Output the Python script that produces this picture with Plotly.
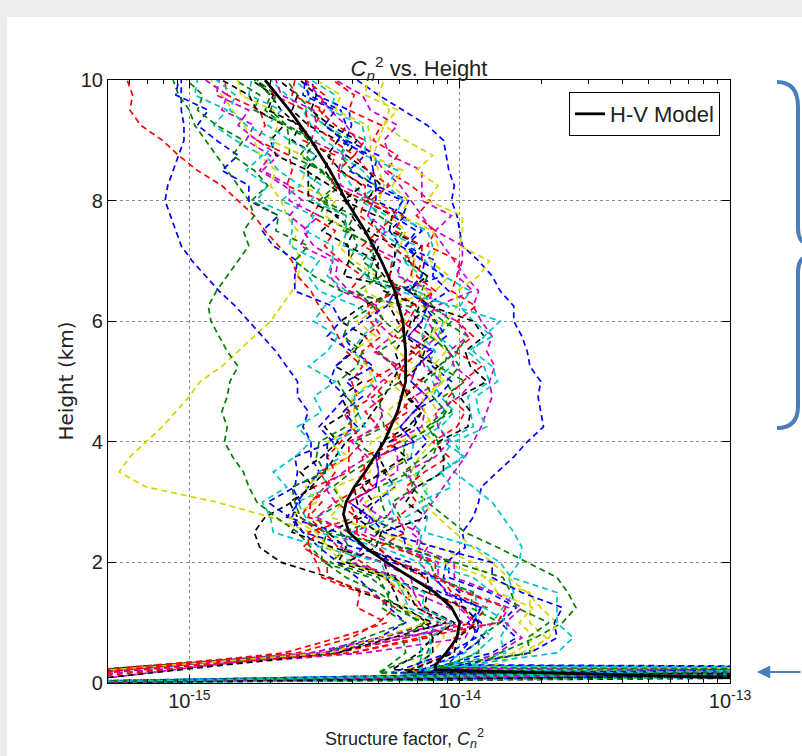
import plotly.graph_objects as go

# ---------------------------------------------------------------------------
# Data
# ---------------------------------------------------------------------------
# Sample heights (km) of every balloon profile above the surface layer
profile_heights_km = [0.5, 0.75, 1.0, 1.25, 1.5, 1.75, 2.0, 2.25, 2.5, 2.75,
                      3.0, 3.25, 3.5, 3.75, 4.0, 4.25, 4.5, 4.75, 5.0, 5.25,
                      5.5, 5.75, 6.0, 6.25, 6.5, 6.75, 7.0, 7.25, 7.5, 7.75,
                      8.0, 8.25, 8.5, 8.75, 9.0, 9.25, 9.5, 9.75, 10.0]

# log10(Cn^2) of each measured profile at profile_heights_km
profile_log_cn2 = [
    [-14.00, -13.95, -13.92, -13.99, -14.00, -14.06, -14.05, -13.98, -13.99, -13.95, -13.93, -13.92, -13.86, -13.80, -13.75, -13.69, -13.70, -13.71, -13.70, -13.74, -13.75, -13.77, -13.80, -13.80, -13.85, -13.88, -13.93, -13.99, -14.00, -14.01, -14.03, -14.02, -14.04, -14.05, -14.06, -14.12, -14.21, -14.30, -14.38],
    [-13.85, -13.72, -13.62, -13.57, -13.60, -13.64, -13.75, -13.86, -13.98, -14.05, -14.12, -14.18, -14.15, -14.10, -14.08, -14.12, -14.06, -14.02, -14.05, -14.00, -14.04, -14.08, -14.03, -14.10, -14.14, -14.12, -14.20, -14.24, -14.21, -14.30, -14.34, -14.31, -14.40, -14.44, -14.42, -14.50, -14.55, -14.60, -14.64],
    [-14.40, -14.12, -14.08, -14.15, -14.22, -14.28, -14.36, -14.45, -14.50, -14.56, -14.55, -14.50, -14.46, -14.49, -14.44, -14.40, -14.43, -14.38, -14.40, -14.36, -14.42, -14.45, -14.48, -14.52, -14.55, -14.60, -14.62, -14.67, -14.72, -14.76, -14.82, -14.88, -14.97, -15.04, -15.10, -15.18, -15.22, -15.21, -15.23],
    [-13.98, -13.92, -13.88, -13.84, -13.80, -13.82, -13.78, -13.77, -13.80, -13.84, -13.88, -13.95, -14.02, -14.06, -14.03, -14.08, -14.05, -14.10, -14.07, -14.12, -14.09, -14.14, -14.12, -14.18, -14.16, -14.22, -14.25, -14.22, -14.30, -14.34, -14.32, -14.40, -14.44, -14.42, -14.50, -14.55, -14.58, -14.64, -14.70],
    [-14.35, -13.98, -13.95, -14.00, -14.04, -14.10, -14.15, -14.12, -14.18, -14.14, -14.10, -14.06, -14.02, -13.98, -13.95, -13.92, -13.90, -13.88, -13.89, -13.87, -13.90, -13.88, -13.92, -13.95, -13.93, -13.98, -14.02, -14.06, -14.10, -14.14, -14.18, -14.22, -14.28, -14.32, -14.38, -14.42, -14.48, -14.52, -14.58],
    [-14.10, -14.06, -14.05, -14.12, -14.20, -14.28, -14.40, -14.48, -14.55, -14.70, -14.90, -15.16, -15.26, -15.22, -15.16, -15.10, -15.05, -15.00, -14.96, -14.88, -14.82, -14.76, -14.70, -14.66, -14.62, -14.60, -14.58, -14.62, -14.60, -14.64, -14.66, -14.70, -14.68, -14.74, -14.76, -14.80, -14.84, -14.88, -14.92],
    [-14.15, -14.10, -14.12, -14.20, -14.36, -14.48, -14.66, -14.74, -14.76, -14.72, -14.62, -14.55, -14.50, -14.46, -14.42, -14.36, -14.32, -14.28, -14.25, -14.22, -14.24, -14.20, -14.23, -14.26, -14.22, -14.28, -14.32, -14.30, -14.36, -14.40, -14.38, -14.46, -14.50, -14.48, -14.56, -14.60, -14.66, -14.70, -14.75],
    [-14.50, -14.30, -14.20, -14.26, -14.32, -14.38, -14.45, -14.52, -14.58, -14.62, -14.60, -14.56, -14.52, -14.55, -14.55, -14.58, -14.56, -14.60, -14.60, -14.64, -14.68, -14.73, -14.78, -14.83, -14.89, -14.94, -14.99, -15.03, -15.05, -15.07, -15.09, -15.08, -15.06, -15.04, -15.02, -15.02, -15.03, -15.03, -15.03],
    [-14.12, -14.10, -14.15, -14.22, -14.30, -14.42, -14.50, -14.55, -14.60, -14.68, -14.75, -14.78, -14.80, -14.84, -14.87, -14.86, -14.88, -14.86, -14.85, -14.82, -14.86, -14.89, -14.92, -14.93, -14.90, -14.86, -14.82, -14.78, -14.80, -14.76, -14.78, -14.82, -14.86, -14.90, -14.94, -14.98, -15.00, -15.04, -15.06],
    [-14.45, -14.20, -13.95, -13.90, -14.03, -14.07, -14.23, -14.31, -14.39, -14.56, -14.51, -14.54, -14.41, -14.41, -14.41, -14.30, -14.35, -14.28, -14.34, -14.24, -14.31, -14.35, -14.28, -14.32, -14.41, -14.36, -14.44, -14.50, -14.46, -14.55, -14.51, -14.64, -14.62, -14.63, -14.75, -14.72, -14.74, -14.86, -14.87],
    [-14.14, -14.15, -14.07, -14.19, -14.21, -14.24, -14.42, -14.36, -14.40, -14.24, -14.26, -14.27, -14.15, -14.18, -14.17, -14.07, -14.02, -14.07, -14.10, -14.03, -14.01, -14.08, -14.06, -14.04, -14.16, -14.14, -14.21, -14.16, -14.28, -14.27, -14.37, -14.31, -14.36, -14.44, -14.40, -14.50, -14.57, -14.55, -14.61],
    [-14.55, -14.25, -13.85, -13.82, -13.97, -14.08, -14.08, -14.22, -14.35, -14.33, -14.41, -14.31, -14.30, -14.31, -14.17, -14.22, -14.17, -14.12, -14.18, -14.16, -14.10, -14.19, -14.14, -14.22, -14.41, -14.46, -14.45, -14.54, -14.58, -14.52, -14.63, -14.63, -14.73, -14.67, -14.75, -14.82, -14.78, -14.90, -14.89],
    [-13.77, -13.67, -13.64, -13.70, -13.75, -13.82, -13.88, -13.95, -14.02, -14.08, -14.14, -14.12, -14.18, -14.15, -14.10, -14.14, -14.08, -14.12, -14.06, -14.10, -14.05, -14.10, -14.08, -14.14, -14.12, -14.18, -14.16, -14.22, -14.20, -14.26, -14.30, -14.28, -14.30, -14.32, -14.30, -14.28, -14.26, -14.30, -14.28],
    [-14.10, -14.10, -14.02, -14.13, -14.12, -14.26, -14.28, -14.47, -14.62, -14.60, -14.63, -14.54, -14.59, -14.51, -14.45, -14.50, -14.41, -14.44, -14.36, -14.46, -14.39, -14.35, -14.44, -14.36, -14.23, -14.26, -14.24, -14.24, -14.34, -14.31, -14.43, -14.36, -14.44, -14.49, -14.45, -14.56, -14.62, -14.60, -14.67],
    [-13.88, -13.79, -13.85, -13.79, -13.89, -14.04, -14.04, -14.20, -14.21, -14.35, -14.31, -14.24, -14.28, -14.17, -14.12, -14.16, -14.17, -14.08, -14.03, -14.10, -14.12, -14.05, -14.09, -14.13, -14.04, -14.10, -14.09, -14.20, -14.14, -14.21, -14.19, -14.31, -14.32, -14.30, -14.42, -14.40, -14.41, -14.53, -14.55],
    [-14.50, -14.35, -14.20, -14.29, -14.26, -14.33, -14.51, -14.51, -14.49, -14.53, -14.43, -14.47, -14.40, -14.31, -14.39, -14.28, -14.29, -14.30, -14.22, -14.24, -14.30, -14.21, -14.28, -14.31, -14.26, -14.34, -14.41, -14.38, -14.40, -14.52, -14.49, -14.55, -14.51, -14.63, -14.63, -14.64, -14.76, -14.74, -14.83],
    [-14.03, -14.02, -13.94, -13.99, -14.12, -14.13, -14.24, -14.30, -14.20, -14.23, -14.16, -14.20, -14.13, -14.04, -14.10, -14.01, -13.98, -14.04, -13.99, -13.92, -14.02, -13.95, -14.01, -13.94, -14.03, -14.01, -14.00, -14.12, -14.09, -14.16, -14.11, -14.18, -14.27, -14.23, -14.32, -14.29, -14.41, -14.39, -14.47],
    [-13.94, -13.88, -13.94, -13.94, -13.94, -14.11, -14.15, -14.29, -14.53, -14.57, -14.60, -14.48, -14.52, -14.44, -14.47, -14.35, -14.38, -14.39, -14.31, -14.33, -14.40, -14.36, -14.30, -14.38, -14.52, -14.56, -14.52, -14.63, -14.62, -14.62, -14.75, -14.71, -14.79, -14.73, -14.83, -14.91, -14.86, -14.98, -14.97],
    [-14.55, -14.30, -14.03, -14.14, -14.17, -14.22, -14.40, -14.36, -14.39, -14.29, -14.37, -14.33, -14.23, -14.23, -14.25, -14.14, -14.13, -14.17, -14.07, -14.13, -14.15, -14.08, -14.12, -14.09, -13.95, -14.01, -13.99, -13.99, -14.09, -14.03, -14.14, -14.14, -14.14, -14.26, -14.28, -14.23, -14.33, -14.36, -14.46],
    [-13.80, -13.72, -13.78, -13.73, -13.86, -13.90, -14.06, -14.17, -14.28, -14.48, -14.43, -14.46, -14.33, -14.33, -14.33, -14.22, -14.27, -14.20, -14.26, -14.16, -14.23, -14.27, -14.20, -14.25, -14.35, -14.31, -14.39, -14.45, -14.41, -14.50, -14.46, -14.59, -14.57, -14.58, -14.70, -14.67, -14.69, -14.81, -14.82],
    [-14.45, -14.30, -14.10, -14.22, -14.24, -14.27, -14.45, -14.42, -14.49, -14.36, -14.38, -14.39, -14.27, -14.30, -14.29, -14.19, -14.14, -14.19, -14.22, -14.15, -14.13, -14.20, -14.18, -14.11, -14.19, -14.12, -14.19, -14.14, -14.26, -14.25, -14.35, -14.29, -14.34, -14.42, -14.38, -14.48, -14.55, -14.53, -14.59],
    [-14.04, -13.94, -13.95, -13.92, -14.07, -14.18, -14.18, -14.39, -14.58, -14.63, -14.71, -14.61, -14.60, -14.61, -14.47, -14.52, -14.47, -14.42, -14.48, -14.46, -14.40, -14.49, -14.44, -14.47, -14.61, -14.61, -14.60, -14.69, -14.73, -14.67, -14.78, -14.78, -14.88, -14.82, -14.90, -14.97, -14.93, -15.05, -15.04],
    [-13.93, -13.93, -13.85, -13.96, -13.95, -14.09, -14.11, -14.23, -14.31, -14.22, -14.25, -14.16, -14.21, -14.13, -14.07, -14.12, -14.03, -14.06, -13.98, -14.08, -14.01, -13.97, -14.06, -14.13, -14.16, -14.34, -14.32, -14.32, -14.42, -14.39, -14.51, -14.44, -14.52, -14.57, -14.53, -14.64, -14.70, -14.68, -14.75],
    [-14.60, -14.40, -14.30, -14.24, -14.34, -14.49, -14.49, -14.58, -14.52, -14.59, -14.55, -14.48, -14.52, -14.41, -14.36, -14.40, -14.41, -14.32, -14.27, -14.34, -14.36, -14.29, -14.33, -14.34, -14.23, -14.26, -14.25, -14.36, -14.30, -14.37, -14.35, -14.47, -14.48, -14.46, -14.58, -14.56, -14.57, -14.69, -14.71],
    [-13.83, -13.85, -13.82, -13.91, -13.88, -13.95, -14.13, -14.15, -14.14, -14.20, -14.10, -14.14, -14.07, -13.98, -14.06, -13.95, -13.96, -13.97, -13.89, -13.91, -13.97, -13.88, -13.95, -14.00, -13.96, -14.06, -14.13, -14.10, -14.12, -14.24, -14.21, -14.27, -14.23, -14.35, -14.35, -14.36, -14.48, -14.46, -14.55],
    [-14.50, -14.20, -13.99, -14.04, -14.17, -14.18, -14.29, -14.44, -14.41, -14.53, -14.46, -14.50, -14.43, -14.34, -14.40, -14.31, -14.28, -14.34, -14.29, -14.22, -14.32, -14.25, -14.31, -14.30, -14.44, -14.48, -14.47, -14.59, -14.56, -14.63, -14.58, -14.65, -14.74, -14.70, -14.79, -14.76, -14.88, -14.86, -14.94],
    [-13.74, -13.68, -13.74, -13.74, -13.74, -13.91, -13.95, -14.08, -14.29, -14.32, -14.35, -14.23, -14.27, -14.19, -14.22, -14.10, -14.13, -14.14, -14.06, -14.08, -14.15, -14.11, -14.05, -14.01, -14.01, -13.93, -13.89, -14.00, -13.99, -13.99, -14.12, -14.08, -14.16, -14.10, -14.20, -14.28, -14.23, -14.35, -14.34],
    [-14.45, -14.25, -14.05, -14.16, -14.19, -14.24, -14.42, -14.31, -14.29, -14.12, -14.20, -14.16, -14.06, -14.06, -14.08, -13.97, -13.96, -14.00, -13.90, -13.96, -13.98, -13.91, -13.95, -14.11, -14.18, -14.43, -14.41, -14.41, -14.51, -14.45, -14.56, -14.56, -14.56, -14.68, -14.70, -14.65, -14.75, -14.78, -14.88],
    [-13.99, -13.91, -13.97, -13.92, -14.05, -14.09, -14.25, -14.35, -14.45, -14.64, -14.59, -14.62, -14.49, -14.49, -14.49, -14.38, -14.43, -14.36, -14.42, -14.32, -14.39, -14.43, -14.36, -14.27, -14.24, -14.06, -14.14, -14.20, -14.16, -14.25, -14.21, -14.34, -14.32, -14.33, -14.45, -14.42, -14.44, -14.56, -14.57],
    [-14.20, -14.21, -14.13, -14.25, -14.27, -14.30, -14.48, -14.41, -14.44, -14.27, -14.29, -14.30, -14.18, -14.21, -14.20, -14.10, -14.05, -14.10, -14.13, -14.06, -14.04, -14.11, -14.09, -14.19, -14.44, -14.54, -14.61, -14.56, -14.68, -14.67, -14.77, -14.71, -14.76, -14.84, -14.80, -14.90, -14.97, -14.95, -15.01],
    [-14.40, -14.15, -13.86, -13.83, -13.98, -14.09, -14.09, -14.25, -14.38, -14.38, -14.46, -14.36, -14.35, -14.36, -14.22, -14.27, -14.22, -14.17, -14.23, -14.21, -14.15, -14.24, -14.19, -14.16, -14.24, -14.18, -14.17, -14.26, -14.30, -14.24, -14.35, -14.35, -14.45, -14.39, -14.47, -14.54, -14.50, -14.62, -14.61],
    [-14.11, -14.11, -14.03, -14.14, -14.13, -14.27, -14.29, -14.51, -14.69, -14.70, -14.73, -14.64, -14.69, -14.61, -14.55, -14.60, -14.51, -14.54, -14.46, -14.56, -14.49, -14.45, -14.54, -14.50, -14.42, -14.49, -14.47, -14.47, -14.57, -14.54, -14.66, -14.59, -14.67, -14.72, -14.68, -14.79, -14.85, -14.83, -14.90],
    [-13.86, -13.77, -13.83, -13.77, -13.87, -14.02, -14.02, -14.16, -14.15, -14.27, -14.23, -14.16, -14.20, -14.09, -14.04, -14.08, -14.09, -14.00, -13.95, -14.02, -14.04, -13.97, -14.01, -14.12, -14.10, -14.23, -14.22, -14.33, -14.27, -14.34, -14.32, -14.44, -14.45, -14.43, -14.55, -14.53, -14.54, -14.66, -14.68],
    [-14.48, -14.30, -14.12, -14.21, -14.18, -14.25, -14.43, -14.49, -14.53, -14.63, -14.53, -14.57, -14.50, -14.41, -14.49, -14.38, -14.39, -14.40, -14.32, -14.34, -14.40, -14.31, -14.38, -14.28, -14.09, -14.04, -14.11, -14.08, -14.10, -14.22, -14.19, -14.25, -14.21, -14.33, -14.33, -14.34, -14.46, -14.44, -14.53],
    [-14.02, -14.01, -13.93, -13.98, -14.11, -14.12, -14.23, -14.35, -14.30, -14.39, -14.32, -14.36, -14.29, -14.20, -14.26, -14.17, -14.14, -14.20, -14.15, -14.08, -14.18, -14.11, -14.17, -14.15, -14.28, -14.31, -14.30, -14.42, -14.39, -14.46, -14.41, -14.48, -14.57, -14.53, -14.62, -14.59, -14.71, -14.69, -14.77],
    [-13.74, -13.64, -13.65, -13.62, -13.77, -13.88, -13.88, -14.09, -14.28, -14.33, -14.41, -14.31, -14.30, -14.31, -14.17, -14.22, -14.17, -14.12, -14.18, -14.16, -14.10, -14.19, -14.14, -14.12, -14.19, -14.14, -14.13, -14.22, -14.26, -14.20, -14.31, -14.31, -14.41, -14.35, -14.43, -14.50, -14.46, -14.58, -14.57],
    [-13.74, -13.75, -13.67, -13.79, -13.81, -13.84, -14.02, -14.21, -14.50, -14.59, -14.61, -14.62, -14.50, -14.53, -14.52, -14.42, -14.37, -14.42, -14.45, -14.38, -14.36, -14.43, -14.41, -14.32, -14.38, -14.29, -14.36, -14.31, -14.43, -14.42, -14.52, -14.46, -14.51, -14.59, -14.55, -14.65, -14.72, -14.70, -14.76],
    [-14.65, -14.45, -14.27, -14.38, -14.37, -14.51, -14.53, -14.56, -14.56, -14.38, -14.41, -14.32, -14.37, -14.29, -14.23, -14.28, -14.19, -14.22, -14.14, -14.24, -14.17, -14.13, -14.22, -14.18, -14.09, -14.16, -14.14, -14.14, -14.24, -14.21, -14.33, -14.26, -14.34, -14.39, -14.35, -14.46, -14.52, -14.50, -14.57],
    [-13.64, -13.58, -13.64, -13.64, -13.64, -13.81, -13.85, -13.94, -14.13, -14.12, -14.15, -14.03, -14.07, -13.99, -14.02, -13.90, -13.93, -13.94, -13.86, -13.88, -13.95, -13.91, -13.85, -14.02, -14.23, -14.36, -14.32, -14.43, -14.42, -14.42, -14.55, -14.51, -14.59, -14.53, -14.63, -14.71, -14.66, -14.78, -14.77],
]

# Surface-layer samples of each profile (below 0.5 km)
ground_heights_km = [
    [0.0, 0.26, 0.29], [0.0, 0.20, 0.24], [0.10], [0.0, 0.24, 0.27], [0.05],
    [0.0, 0.16, 0.20], [0.0, 0.18, 0.22], [0.14], [0.0, 0.14, 0.18], [0.0],
    [0.0, 0.22, 0.25], [0.08], [0.0, 0.12, 0.21], [0.0, 0.10, 0.15],
    [0.0, 0.21, 0.25], [0.12], [0.0, 0.15, 0.19], [0.0, 0.25, 0.28], [0.03],
    [0.0, 0.19, 0.23], [0.15], [0.0, 0.13, 0.17], [0.0, 0.17, 0.21], [0.06],
    [0.0, 0.11, 0.14], [0.11], [0.0, 0.23, 0.26], [0.02], [0.0, 0.16, 0.20],
    [0.0, 0.12, 0.16], [0.09], [0.0, 0.18, 0.21], [0.0, 0.20, 0.24], [0.13],
    [0.0, 0.14, 0.18], [0.0, 0.27, 0.30], [0.0, 0.22, 0.26], [0.04],
    [0.0, 0.25, 0.28],
]
ground_log_cn2 = [
    [-15.80, -12.40, -14.05], [-15.60, -12.50, -13.95], [-15.50],
    [-15.90, -12.45, -14.10], [-15.60], [-15.70, -12.60, -14.20],
    [-15.50, -12.40, -14.25], [-15.45], [-15.80, -12.50, -14.30], [-15.60],
    [-15.60, -12.50, -14.15], [-15.70], [-15.70, -12.60, -14.00],
    [-15.60, -12.30, -14.20], [-15.70, -12.50, -14.10], [-15.65],
    [-15.50, -12.60, -14.20], [-15.80, -12.50, -14.05], [-15.40],
    [-15.60, -12.40, -14.00], [-15.55], [-15.50, -12.50, -14.25],
    [-15.70, -12.60, -14.10], [-15.75], [-15.50, -12.50, -14.20], [-15.50],
    [-15.60, -12.45, -13.90], [-15.45], [-15.80, -12.50, -14.15],
    [-15.60, -12.40, -14.30], [-15.65], [-15.70, -12.50, -14.15],
    [-15.50, -12.45, -14.00], [-15.55], [-15.60, -12.50, -14.20],
    [-15.70, -12.40, -14.00], [-15.80, -12.50, -14.10], [-15.60],
    [-15.60, -12.40, -14.00],
]

# Hufnagel-Valley model profile
hv_heights_km = [0.0, 0.22, 0.3, 0.5, 0.75, 1.0, 1.25, 1.5, 1.75, 2.0, 2.25,
                 2.5, 2.8, 3.0, 3.25, 3.5, 4.0, 4.5, 5.0, 5.5, 6.0, 6.5, 7.0,
                 7.5, 8.0, 8.5, 9.0, 9.5, 10.0]
hv_log_cn2 = [-12.33, -14.09, -14.09, -14.05, -14.01, -14.00, -14.03, -14.09,
              -14.18, -14.27, -14.35, -14.41, -14.43, -14.42, -14.39, -14.35,
              -14.28, -14.23, -14.20, -14.20, -14.21, -14.24, -14.29, -14.35,
              -14.42, -14.48, -14.55, -14.63, -14.72]

x_tick_values = [1e-15, 1e-14, 1e-13]
x_tick_labels = ["10<sup>-15</sup>", "10<sup>-14</sup>", "10<sup>-13</sup>"]
y_tick_values = [0, 2, 4, 6, 8, 10]

# ---------------------------------------------------------------------------
# Styling
# ---------------------------------------------------------------------------
LINE_CYCLE = ["#0000ff", "#008000", "#ff0000", "#00c4c4",
              "#cc00cc", "#d4d400", "#000000"]
SANS = "Liberation Sans, Arial, sans-serif"
ACCENT = "#4a7ebb"
TEXT = "#222222"

W, H = 802, 756
ML, MR, MT, MB = 108, 72, 80, 73
PW, PH = W - ML - MR, H - MT - MB


def px(x):
    """Pixel column -> paper x."""
    return (x - ML) / PW


def py(y):
    """Pixel row -> paper y."""
    return (H - MB - y) / PH


fig = go.Figure()

for i, (gh, gv, pv) in enumerate(zip(ground_heights_km, ground_log_cn2,
                                     profile_log_cn2)):
    heights = gh + profile_heights_km[:len(pv)]
    logs = gv + pv
    fig.add_trace(go.Scatter(
        x=[10 ** v for v in logs], y=heights, mode="lines",
        line=dict(color=LINE_CYCLE[i % len(LINE_CYCLE)], width=1.7,
                  dash="6px,4px"),
        showlegend=False, hoverinfo="skip"))

fig.add_trace(go.Scatter(
    x=[10 ** v for v in hv_log_cn2], y=hv_heights_km, mode="lines",
    line=dict(color="black", width=2.8), name="H-V Model"))

minor_x = [m * 10.0 ** e for e in (-16, -15, -14) for m in range(2, 10)
           if m * 10.0 ** e >= 5e-16]

axis_common = dict(
    showline=True, linecolor="black", linewidth=1.2, mirror="allticks",
    ticks="inside", ticklen=8, tickwidth=1, tickcolor="black",
    showgrid=True, gridcolor="#8a8a8a", griddash="dot", gridwidth=1,
    zeroline=False, tickfont=dict(family=SANS, size=20, color=TEXT),
)

fig.update_layout(
    width=W, height=H,
    margin=dict(l=ML, r=MR, t=MT, b=MB),
    paper_bgcolor="white", plot_bgcolor="white",
    title=dict(text="<i>C</i><sub><i>n</i></sub><sup>2</sup> vs. Height",
               x=0.5, xref="paper", xanchor="center",
               y=1, yref="paper", yanchor="bottom", pad=dict(b=4),
               font=dict(family=SANS, size=22, color=TEXT)),
    xaxis=dict(type="log", range=[-15.30103, -13.0],
               tickmode="array", tickvals=x_tick_values,
               ticktext=x_tick_labels,
               minor=dict(tickmode="array", tickvals=minor_x, ticks="inside",
                          ticklen=4, tickcolor="black", showgrid=False),
               **axis_common),
    yaxis=dict(range=[0, 10], tickmode="array", tickvals=y_tick_values,
               **axis_common),
    legend=dict(x=px(720), xanchor="right", y=py(92), yanchor="top",
                bgcolor="white", bordercolor="black", borderwidth=1,
                font=dict(family=SANS, size=22, color=TEXT)),
    showlegend=True,
)

fig.add_annotation(
    text="Structure factor, <i>C</i><sub><i>n</i></sub><sup>2</sup>",
    x=px(404), y=py(738), xref="paper", yref="paper",
    xanchor="center", yanchor="middle",
    showarrow=False, font=dict(family=SANS, size=18, color=TEXT))
fig.add_annotation(
    text="Height (km)", textangle=-90,
    x=px(65), y=0.5, xref="paper", yref="paper",
    xanchor="center", yanchor="middle",
    showarrow=False, font=dict(family="DejaVu Sans", size=20, color=TEXT))

# Arrow pointing at the surface layer
fig.add_annotation(
    x=px(757), y=py(672), xref="paper", yref="paper", text="",
    showarrow=True, ax=46, ay=0, arrowhead=2, arrowsize=1.2,
    arrowwidth=2.2, arrowcolor=ACCENT)

# Slide frame and the brace grouping the upper troposphere
shapes = [
    dict(type="rect", xref="paper", yref="paper", x0=px(0), x1=px(802),
         y0=py(17), y1=py(0), fillcolor="#ececec", line=dict(width=0),
         layer="below"),
    dict(type="rect", xref="paper", yref="paper", x0=px(0), x1=px(7),
         y0=py(756), y1=py(0), fillcolor="#ececec", line=dict(width=0),
         layer="below"),
    dict(type="path", xref="paper", yref="paper",
         path=(f"M {px(777)},{py(82)} Q {px(798)},{py(82)} {px(798)},{py(107)} "
               f"L {px(798)},{py(228)} Q {px(798)},{py(238)} {px(803)},{py(242)}"),
         line=dict(color=ACCENT, width=4)),
    dict(type="path", xref="paper", yref="paper",
         path=(f"M {px(803)},{py(258)} Q {px(798)},{py(262)} {px(798)},{py(272)} "
               f"L {px(798)},{py(406)} Q {px(798)},{py(428)} {px(777)},{py(428)}"),
         line=dict(color=ACCENT, width=4)),
]
fig.update_layout(shapes=shapes)

fig.write_html("out.html")
